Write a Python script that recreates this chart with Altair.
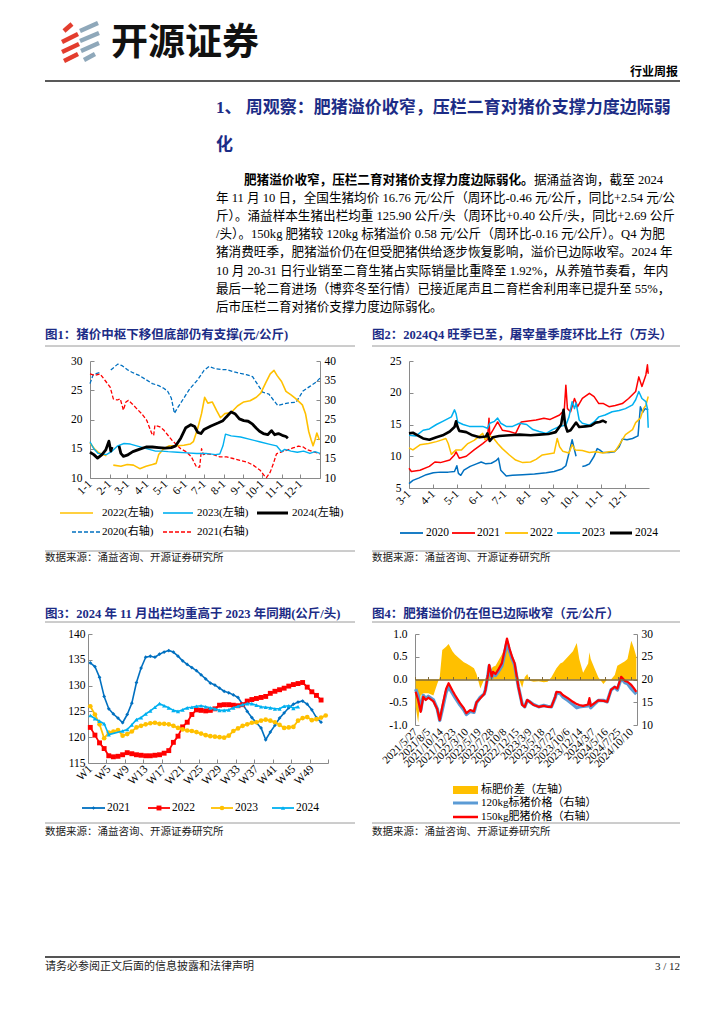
import json
import altair as alt
import pandas as pd

# ===================== DATA =====================
# Figure 1: hog price (yuan/kg); x = day of year
c1_ticks = [1, 32, 60, 91, 121, 152, 182, 213, 244, 274, 305, 335]
c1_tick_labels = ["1-1", "2-1", "3-1", "4-1", "5-1", "6-1", "7-1", "8-1", "9-1", "10-1", "11-1", "12-1"]
c1_d_2022 = [1, 8, 15, 22, 27, 33, 38, 50, 60, 70, 80, 90, 100, 106, 110, 118, 127, 140, 150, 160, 165, 172, 178, 183, 188, 195, 202, 208, 215, 225, 235, 245, 255, 265, 272, 280, 287, 293, 298, 305, 312, 320, 327, 333, 338, 343, 348, 352, 355, 358, 361, 365]
c1_v_2022 = [16.0, 15.0, 14.3, 14.0, 13.8, None, 12.2, 12.0, 12.3, 12.2, 11.6, 12.0, 12.3, 12.5, 14.0, 15.0, 15.5, 15.5, 15.6, 15.8, 16.2, 18.5, 21.0, 23.8, 22.8, 23.0, 21.5, 20.3, 21.0, 21.2, 22.3, 23.0, 23.2, 23.8, 24.5, 26.3, 27.8, 28.4, 27.5, 26.5, 24.8, 24.2, 23.6, 23.0, 22.5, 21.0, 18.0, 16.5, 15.5, 16.5, 17.7, 16.5]
c1_d_2023 = [1, 7, 14, 27, 35, 45, 55, 65, 75, 85, 95, 105, 115, 125, 140, 155, 170, 185, 200, 207, 212, 216, 225, 240, 255, 270, 285, 297, 305, 310, 320, 330, 340, 350, 358, 366]
c1_v_2023 = [16.2, 15.0, 14.2, 14.0, 14.5, 15.5, 15.9, 15.8, 15.5, 15.2, 14.9, 14.6, 14.6, 14.5, 14.4, 14.3, 14.2, 14.2, 14.0, 14.1, 15.5, 17.5, 17.2, 17.0, 16.6, 16.2, 15.8, 15.5, 14.5, 14.9, 14.6, 14.4, 14.6, 14.2, 14.5, 14.2]
c1_d_2024 = [1, 7, 13, 20, 26, 31, 34, 36, 40, 47, 50, 54, 60, 69, 79, 90, 100, 110, 120, 130, 137, 145, 153, 161, 167, 172, 177, 182, 193, 204, 212, 217, 225, 231, 238, 245, 252, 259, 265, 270, 276, 283, 289, 294, 300, 306, 312, 315]
c1_v_2024 = [14.4, 14.0, 13.4, 14.0, 14.8, 16.3, 14.6, 15.3, None, 15.5, 14.2, 13.7, 13.9, 14.5, 14.9, 15.3, 15.3, 15.2, 15.1, 15.2, 15.5, 16.8, 18.6, 19.1, 18.8, 17.8, 17.6, 18.3, 18.9, 19.4, 19.8, 20.4, 21.3, 21.0, 20.1, 19.8, 19.7, 19.2, 18.5, 18.0, 17.6, 17.4, 18.1, 17.4, 17.6, 17.3, 17.1, 16.8]
c1_d_2020 = [1, 6, 12, 16, 25, 34, 40, 45, 52, 60, 69, 79, 90, 100, 110, 118, 124, 130, 135, 140, 148, 159, 172, 182, 190, 200, 210, 217, 230, 240, 249, 259, 267, 275, 285, 292, 299, 308, 317, 328, 339, 350, 360, 366]
c1_v_2020 = [34.2, 36.5, 36.8, 37.0, None, 37.7, 38.5, 39.2, 38.8, 37.8, 37.0, 36.3, 35.2, 34.2, 33.7, 33.0, 32.3, 30.5, 26.6, 28.0, 30.0, 32.8, 35.2, 37.6, 38.6, 38.0, 37.8, 37.8, 37.2, 36.8, 36.5, 36.0, 34.0, 32.0, 31.5, 30.0, 28.6, 29.0, 29.3, 29.4, 32.3, 33.5, 34.6, 35.6]
c1_d_2021 = [1, 9, 17, 25, 33, 38, 44, 49, 54, 58, 62, 68, 75, 83, 91, 99, 102, 104, 112, 118, 125, 131, 139, 145, 154, 162, 170, 175, 178, 181, 186, 197, 207, 218, 228, 239, 250, 260, 271, 279, 281, 287, 292, 297, 303, 313, 323, 332, 340, 345, 356, 366]
c1_v_2021 = [36.7, 36.3, 36.7, 35.0, 33.3, 30.3, 30.0, 30.3, 27.4, 29.5, 29.9, 29.0, 27.8, 26.5, 24.8, 21.4, 20.9, 23.5, 23.1, 22.3, 20.9, 19.7, 18.4, 17.5, 16.7, 15.4, 12.8, 12.8, 17.5, 16.0, 16.2, 16.0, 15.4, 15.4, 15.0, 14.5, 14.1, 13.3, 12.0, 10.3, 10.1, 11.5, 13.7, 16.2, 16.6, 17.1, 17.7, 18.2, 17.9, 17.3, 16.7, 16.2]

# Figure 2: slaughter volume (10k head); x = days since Mar 1
c2_ticks = [0, 31, 61, 92, 122, 153, 184, 214, 245, 275]
c2_tick_labels = ["3-1", "4-1", "5-1", "6-1", "7-1", "8-1", "9-1", "10-1", "11-1", "12-1"]
c2_d_2020 = [0, 5, 13, 22, 31, 40, 50, 58, 61, 63, 66, 70, 78, 86, 92, 98, 105, 111, 114, 117, 124, 132, 145, 160, 175, 185, 195, 200, 205, 208, 211, 213, 217, 221, 225, 230, 236, 240, 243, 247, 255, 262, 268, 272, 278, 285, 292, 295, 298, 301, 305]
c2_v_2020 = [5.7, 6.2, 6.6, 7.1, 7.4, 7.5, 7.5, 7.6, 8.5, 7.3, 7.0, 7.8, 8.4, 8.8, 9.1, 8.8, 8.9, 9.3, 9.7, 7.8, 6.9, 7.0, 7.1, 7.2, 7.4, 7.6, 8.0, 8.5, 11.0, 12.6, 11.0, 10.0, None, 8.4, 8.5, 8.8, 10.0, 11.2, 11.0, 10.6, 10.6, 10.7, 11.5, 12.7, 12.6, 12.8, 13.2, 17.8, 16.9, 17.5, 17.3]
c2_d_2021 = [0, 3, 14, 26, 33, 40, 52, 58, 60, 64, 73, 83, 94, 100, 102, 103, 107, 113, 119, 128, 136, 143, 150, 162, 172, 180, 192, 198, 200, 202, 206, 211, 215, 221, 230, 236, 242, 248, 255, 263, 272, 280, 289, 293, 297, 302, 304, 305]
c2_v_2021 = [8.1, 7.6, 7.8, 8.4, 9.1, 9.0, 9.4, 10.2, 10.7, 9.7, 10.0, 11.0, 12.0, 12.6, 16.0, 13.3, 14.1, 15.4, 14.1, 13.9, 13.6, 15.4, 15.5, 15.7, 16.0, 15.8, 16.5, 17.3, 21.2, 17.5, 17.0, 19.1, 17.8, 19.1, 19.9, 19.4, 18.3, 18.3, 17.8, 18.0, 18.3, 19.1, 20.2, 22.5, 21.0, 22.8, 24.4, 23.0]
c2_d_2022 = [0, 5, 14, 25, 35, 40, 47, 50, 54, 60, 67, 75, 83, 91, 94, 97, 103, 108, 113, 119, 128, 136, 145, 155, 162, 170, 185, 189, 192, 196, 204, 208, 212, 221, 230, 238, 247, 255, 263, 270, 276, 285, 289, 295, 299, 302, 305]
c2_v_2022 = [11.3, 11.0, 11.8, 12.0, 12.3, 12.5, 12.8, 12.0, 10.3, 11.0, 11.0, 12.0, 12.5, 13.3, 13.6, 12.6, 13.2, 12.8, 12.0, 11.2, 10.2, 9.4, 9.0, 9.1, 9.5, 10.2, 10.5, 12.8, 11.5, 10.8, 10.5, 11.8, 11.0, 10.9, 10.6, 10.7, 10.5, 10.7, 10.8, 12.2, 13.4, 14.2, 15.3, 16.0, 17.5, 18.0, 19.4]
c2_d_2023 = [0, 9, 18, 26, 35, 43, 54, 58, 60, 62, 69, 77, 85, 94, 100, 103, 109, 113, 117, 124, 132, 141, 150, 158, 166, 175, 183, 192, 200, 204, 208, 211, 213, 217, 221, 230, 236, 242, 250, 259, 268, 276, 285, 289, 293, 297, 302, 304, 305]
c2_v_2023 = [13.3, 13.2, 14.1, 14.3, 15.0, 15.5, 16.2, 17.3, 16.7, 15.4, 15.0, 14.7, 14.7, 14.7, 14.4, 15.2, 15.5, 16.0, 15.2, 14.7, 14.7, 15.2, 15.0, 14.2, 13.9, 13.6, 14.2, 14.7, 14.9, 16.2, 18.6, 17.5, 18.4, 15.7, 15.2, 14.9, 15.4, 16.2, 16.5, 17.0, 17.2, 17.5, 18.1, 18.9, 20.2, 19.1, 18.6, 17.5, 14.5]
c2_d_2024 = [0, 5, 11, 18, 26, 35, 43, 52, 58, 60, 62, 64, 73, 81, 90, 98, 100, 103, 107, 115, 128, 141, 155, 166, 178, 187, 194, 197, 199, 202, 206, 213, 217, 225, 232, 238, 243, 247, 252]
c2_v_2024 = [13.6, 13.7, 13.3, 12.8, 12.6, 13.0, 13.3, 13.9, 14.6, 15.5, 14.6, 14.0, 13.8, 13.3, 13.0, 13.1, 13.6, 12.4, 13.0, 13.2, 13.3, 13.4, 13.3, 13.4, 13.5, 13.8, 15.0, 17.3, 15.0, 13.9, 14.1, 15.3, 14.6, 14.7, 14.8, 15.3, 15.4, 15.6, 15.3]

# Figure 3: average slaughter weight (kg/head), weeks W1..
c3_2021 = [134.4, 133.7, 131.6, 127.9, 125.5, 124.5, 123.7, 122.8, 124.4, 126.6, 130.6, 133.4, 135.5, 135.7, 135.5, 136.1, 136.5, 136.8, 136.5, 135.7, 134.8, 134.1, 133.5, 132.9, 132.1, 131.3, 130.5, 130.1, 129.5, 128.9, 128.6, 128.2, 127.7, 126.4, 125.0, 123.8, 122.8, 121.8, 119.5, 121.0, 122.3, 123.7, 124.7, 125.7, 126.4, 126.8, 127.0, 126.4, 125.3, 123.8, 122.9]
c3_2022 = [121.9, 120.4, 118.9, 117.8, 116.4, 116.2, 116.3, 116.6, 117.0, 116.8, 116.6, 116.5, 116.4, 116.4, 116.5, 116.6, 116.9, 117.4, 119.0, 120.2, 122.0, 122.9, 124.4, 125.3, 125.2, 125.1, 125.2, 125.5, 126.2, 126.3, 126.3, 126.2, 126.1, 126.3, 127.0, 127.3, 127.5, 127.7, 127.9, 128.5, 128.9, 129.2, 129.5, 129.9, 130.2, 130.4, 130.6, 129.7, 128.8, 128.1, 127.2]
c3_2023 = [126.0, 124.4, 122.5, 119.8, 120.9, 121.1, 121.4, 120.3, 120.6, 121.1, 121.9, 122.2, 122.5, 122.7, 122.8, 122.6, 122.6, 122.5, 122.2, 121.8, 121.5, 121.3, 121.2, 121.0, 120.7, 120.4, 120.2, 120.1, 120.0, 119.9, 120.3, 121.2, 121.7, 122.2, 122.5, 122.8, 122.9, 123.2, 123.4, 123.2, 122.9, 122.4, 121.8, 121.9, 122.0, 123.2, 123.7, 123.9, 123.3, 123.5, 123.8, 124.2]
c3_w_2024 = [1, 2, 3, 4, 5, 8, 9, 10, 11, 12, 13, 14, 15, 16, 17, 18, 19, 20, 21, 22, 23, 24, 25, 26, 27, 28, 29, 30, 31, 32, 33, 34, 35, 36, 37, 38, 39, 40, 41, 42, 43, 44, 45, 46]
c3_2024 = [124.2, 123.6, 123.1, 122.6, 120.5, 121.2, 121.5, 122.4, 123.4, 123.8, 124.5, 125.1, 125.8, 126.5, 126.1, 125.7, 125.2, 125.0, 125.3, 125.7, 125.8, 126.0, 126.1, 125.9, 125.7, 125.5, 125.2, 125.2, 125.3, 125.7, 126.0, 126.3, 126.5, 126.5, 126.2, 125.9, 125.8, 125.7, 125.5, 125.5, 126.0, 126.1, 125.6, 125.9]

# Figure 4: weekly fat-hog premium; x = weekly category index
c4_labels = ["2021/5/27", "2021/8/5", "2021/10/14", "2021/12/23", "2022/3/10", "2022/5/19", "2022/7/28", "2022/10/8", "2022/12/15", "2023/3/9", "2023/5/18", "2023/7/27", "2023/10/6", "2023/12/14", "2024/3/7", "2024/5/16", "2024/7/25", "2024/10/10"]
c4_idx = [0, 2, 4, 6, 8, 10, 14, 17, 19, 21, 24, 26, 29, 31, 35, 38, 40, 43, 46, 48, 51, 54, 55, 57, 58, 60, 61, 63, 65, 68, 70, 72, 74, 76, 78, 81, 84, 86, 88, 90, 93, 97, 101, 104, 107, 110, 111, 114, 116, 120, 124, 127, 129, 132, 136, 137, 138, 141, 144, 148, 151, 154, 157, 159, 162, 165, 167, 170, 172, 174]
c4_diff = [-0.6, -0.95, -0.35, -0.3, -0.3, -0.3, -0.35, -0.1, 0.05, 0.65, 0.72, 0.78, 0.62, 0.55, 0.45, 0.38, 0.35, 0.3, 0.25, 0.12, -0.2, 0.0, 0.02, 0.1, 0.15, 0.25, 0.28, 0.3, 0.4, 0.55, 0.68, 0.75, 0.55, 0.42, 0.3, 0.05, -0.18, 0.05, 0.12, -0.03, -0.05, -0.04, -0.06, -0.05, 0.05, 0.2, 0.25, 0.35, 0.38, 0.5, 0.62, 0.8, 0.45, 0.15, 0.35, 0.6, 0.45, 0.25, 0.05, -0.1, 0.0, 0.0, 0.1, 0.3, 0.35, 0.4, 0.45, 0.85, 0.7, 0.5]
c4_p150 = [17.3, 15.5, 12.9, 16.2, 15.5, 16.0, 15.2, 13.5, 11.1, 14.0, 17.9, 19.2, 17.6, 16.6, 14.8, 13.7, 12.6, 13.3, 13.0, 15.0, 15.9, 16.8, 17.7, 21.0, 23.2, 20.6, 21.7, 21.2, 22.1, 23.6, 26.2, 29.0, 26.8, 25.0, 23.6, 18.4, 14.4, 14.0, 15.5, 15.1, 14.4, 14.0, 14.2, 14.0, 14.0, 16.2, 17.3, 17.2, 16.6, 15.9, 15.1, 14.6, 14.4, 14.2, 14.5, 15.9, 14.2, 14.8, 15.4, 15.3, 15.1, 17.7, 18.4, 18.0, 20.6, 19.7, 19.5, 18.8, 18.1, 17.3]
c4_p120 = [17.9, 16.4, 13.2, 16.5, 15.8, 16.3, 15.5, 13.6, 11.0, 13.4, 17.2, 18.4, 17.0, 16.1, 14.4, 13.3, 12.3, 13.0, 12.8, 14.9, 16.1, 16.8, 17.7, 20.9, 23.0, 20.4, 21.4, 20.9, 21.7, 23.0, 25.5, 28.2, 26.2, 24.6, 23.3, 18.4, 14.6, 14.0, 15.4, 15.1, 14.5, 14.0, 14.3, 14.1, 14.0, 16.0, 17.0, 16.9, 16.2, 15.4, 14.5, 13.8, 14.0, 14.1, 14.2, 15.3, 13.8, 14.6, 15.4, 15.4, 15.1, 17.7, 18.3, 17.7, 20.3, 19.3, 19.1, 18.0, 17.4, 16.8]

# ===================== LAYOUT HELPERS =====================
W, H, M = 708, 1008, 8


def px(x):
    return x - M


def py(y):
    return y - M


ONE = alt.Data(values=[{}])
SERIF = "Liberation Serif, Noto Sans CJK SC"
CJK = "Noto Sans CJK SC"
NAVY = "#1c2c86"
AXC = "#8a8a8a"
layers = []


def T(s, x, y, size=12.6, weight="normal", color="#000", align="left", font=SERIF):
    layers.append(alt.Chart(ONE).mark_text(text=s, fontSize=size, fontWeight=weight, color=color,
                                           align=align, baseline="middle", font=font)
                  .encode(x=alt.value(px(x)), y=alt.value(py(y))))


def R(x0, y0, x1, y1, color="#000", width=1.0, dash=None, cap="butt"):
    kw = dict(color=color, strokeWidth=width, strokeCap=cap)
    if dash:
        kw["strokeDash"] = dash
    layers.append(alt.Chart(ONE).mark_rule(**kw)
                  .encode(x=alt.value(px(x0)), y=alt.value(py(y0)),
                          x2=alt.value(px(x1)), y2=alt.value(py(y1))))


def PT(x, y, shape, color, size):
    layers.append(alt.Chart(ONE).mark_point(shape=shape, filled=True, color=color, size=size, opacity=1)
                  .encode(x=alt.value(px(x)), y=alt.value(py(y))))


def xs(dom, a, b):
    return alt.Scale(domain=dom, range=[px(a), px(b)], nice=False, zero=False)


def ys(dom, bottom, top):
    return alt.Scale(domain=dom, range=[py(bottom), py(top)], nice=False, zero=False)


BASE = dict(domainColor=AXC, tickColor=AXC, labelColor="#000", labelFont="Liberation Serif",
            labelFontSize=11.5, grid=False, title=None, tickSize=4, labelOverlap=False, labelFlush=False)


def ax_left_in(xp, values, gap=9, expr=None):
    kw = dict(BASE, orient="right", offset=px(xp) - W, values=values, labelAlign="right",
              labelPadding=-(4 + gap))
    if expr:
        kw["labelExpr"] = expr
    return alt.Axis(**kw)


def ax_right_in(xp, values, gap=4):
    kw = dict(BASE, orient="left", offset=-px(xp), values=values, labelAlign="left",
              labelPadding=-(4 + gap))
    return alt.Axis(**kw)


def ax_bottom_in(yp, values, expr, gap=4, loff=0, size=11.5):
    kw = dict(BASE, orient="top", offset=-py(yp), values=values, labelExpr=expr, labelAngle=-45,
              labelAlign="right", labelBaseline="middle", labelPadding=-(4 + gap), labelOffset=loff,
              labelFontSize=size)
    return alt.Axis(**kw)


def mk(xv, vv):
    rows, g = [], 0
    for x, v in zip(xv, vv):
        if v is None:
            g += 1
            continue
        rows.append({"x": x, "v": v, "g": g})
    return pd.DataFrame(rows)


def LINE(df, X, Y, color, width, dash=None, xaxis=None, yaxis=None):
    kw = dict(color=color, strokeWidth=width, strokeJoin="round")
    if dash:
        kw["strokeDash"] = dash
    layers.append(alt.Chart(df).mark_line(**kw).encode(
        x=alt.X("x:Q", scale=X, axis=xaxis), y=alt.Y("v:Q", scale=Y, axis=yaxis), detail="g:N"))


def POINTS(df, X, Y, color, shape, size):
    layers.append(alt.Chart(df).mark_point(shape=shape, filled=True, color=color, size=size, opacity=1)
                  .encode(x=alt.X("x:Q", scale=X, axis=None), y=alt.Y("v:Q", scale=Y, axis=None)))


def arr(lst):
    return json.dumps(lst, ensure_ascii=False)


# ===================== HEADER / TEXT =====================
RED, BLUEGREY = "#e33d2e", "#8fa8ba"
R(64, 31, 72, 24, RED, 4.5)
R(62, 42, 78, 34, RED, 4.5)
R(62, 52, 79, 44, RED, 4.5)
R(64, 61, 78, 54, RED, 4.5)
R(80, 31, 98, 23, BLUEGREY, 4.5)
R(80, 41, 99, 33, BLUEGREY, 4.5)
R(81, 51, 99, 43, BLUEGREY, 4.5)
R(84, 60, 95, 54, BLUEGREY, 4.5)
T("开源证券", 111, 44, size=37, weight="bold", font=CJK, color="#111")
T("行业周报", 678, 72, size=12, weight="bold", align="right", font=CJK)
R(45, 81, 680, 81, "#222", 1.6)

T("1、 周观察：肥猪溢价收窄，压栏二育对猪价支撑力度边际弱", 216, 108, size=17, weight="bold", color=NAVY)
T("化", 216, 145, size=17, weight="bold", color=NAVY)

para = [
    "年 11 月 10 日，全国生猪均价 16.76 元/公斤（周环比-0.46 元/公斤，同比+2.54 元/公",
    "斤）。涌益样本生猪出栏均重 125.90 公斤/头（周环比+0.40 公斤/头，同比+2.69 公斤",
    "/头）。150kg 肥猪较 120kg 标猪溢价 0.58 元/公斤（周环比-0.16 元/公斤）。Q4 为肥",
    "猪消费旺季，肥猪溢价仍在但受肥猪供给逐步恢复影响，溢价已边际收窄。2024 年",
    "10 月 20-31 日行业销至二育生猪占实际销量比重降至 1.92%，从养殖节奏看，年内",
    "最后一轮二育进场（博弈冬至行情）已接近尾声且二育栏舍利用率已提升至 55%，",
    "后市压栏二育对猪价支撑力度边际弱化。",
]
T("肥猪溢价收窄，压栏二育对猪价支撑力度边际弱化。", 244, 180, weight="bold")
T("据涌益咨询，截至 2024", 534, 180)
for i, s in enumerate(para):
    T(s, 216, 180 + 18.1 * (i + 1))

# chart titles, rules, sources
T("图1：猪价中枢下移但底部仍有支撑(元/公斤)", 45, 335, size=12.5, weight="bold", color=NAVY)
T("图2：2024Q4 旺季已至，屠宰量季度环比上行（万头）", 372, 335, size=12.5, weight="bold", color=NAVY)
T("图3：2024 年 11 月出栏均重高于 2023 年同期(公斤/头)", 45, 614, size=12.5, weight="bold", color=NAVY)
T("图4：肥猪溢价仍在但已边际收窄（元/公斤）", 372, 614, size=12.5, weight="bold", color=NAVY)
for (a, b) in [(45, 355), (372, 680)]:
    R(a, 346, b, 346, "#9a9a9a", 1)
    R(a, 551, b, 551, "#9a9a9a", 1)
    R(a, 622, b, 622, "#9a9a9a", 1)
    R(a, 823, b, 823, "#9a9a9a", 1)
for (a, yy) in [(45, 558), (372, 558), (45, 832), (372, 832)]:
    T("数据来源：涌益咨询、开源证券研究所", a, yy, size=10.5, color="#222")

# footer
R(45, 957, 680, 957, "#555", 2)
T("请务必参阅正文后面的信息披露和法律声明", 45, 967, size=11, color="#222")
T("3 / 12", 680, 967, size=11, align="right", color="#222")

# ===================== FIGURE 1 =====================
X1 = xs([1, 366], 90, 320)
YL1 = ys([10, 30], 478, 361)
YR1 = ys([10, 40], 478, 361)
c1_expr = f"{arr(c1_tick_labels)}[indexof({arr(c1_ticks)}, datum.value)]"
LINE(mk(c1_d_2020, c1_v_2020), X1, YR1, "#0070C0", 1.3, dash=[4, 2],
     xaxis=ax_bottom_in(478, c1_ticks, c1_expr), yaxis=ax_right_in(320, [10, 15, 20, 25, 30, 35, 40]))
LINE(mk(c1_d_2021, c1_v_2021), X1, YR1, "#FF0000", 1.3, dash=[4, 2])
LINE(mk(c1_d_2022, c1_v_2022), X1, YL1, "#FFC000", 1.6,
     yaxis=ax_left_in(90, [10, 15, 20, 25, 30], gap=8))
LINE(mk(c1_d_2023, c1_v_2023), X1, YL1, "#00B0F0", 1.4)
LINE(mk(c1_d_2024, c1_v_2024), X1, YL1, "#000000", 2.8)
# legend
R(60, 513, 93, 513, "#FFC000", 1.6); T("2022(左轴)", 102, 513, size=11)
R(163, 513, 193, 513, "#00B0F0", 1.6); T("2023(左轴)", 197, 513, size=11)
R(257, 513, 288, 513, "#000000", 3); T("2024(左轴)", 292, 513, size=11)
R(72, 532, 100, 532, "#0070C0", 1.3, dash=[4, 2]); T("2020(右轴)", 102, 532, size=11)
R(163, 532, 193, 532, "#FF0000", 1.3, dash=[4, 2]); T("2021(右轴)", 197, 532, size=11)

# ===================== FIGURE 2 =====================
X2 = xs([0, 306], 409, 649)
Y2 = ys([5, 25], 488, 361)
c2_expr = f"{arr(c2_tick_labels)}[indexof({arr(c2_ticks)}, datum.value)]"
LINE(mk(c2_d_2020, c2_v_2020), X2, Y2, "#0070C0", 1.5,
     xaxis=ax_bottom_in(488, c2_ticks, c2_expr), yaxis=ax_left_in(409, [5, 10, 15, 20, 25], gap=8))
LINE(mk(c2_d_2021, c2_v_2021), X2, Y2, "#FF0000", 1.5)
LINE(mk(c2_d_2022, c2_v_2022), X2, Y2, "#FFC000", 1.5)
LINE(mk(c2_d_2023, c2_v_2023), X2, Y2, "#00B0F0", 1.5)
LINE(mk(c2_d_2024, c2_v_2024), X2, Y2, "#000000", 2.6)
for (a, b, tx, col, lab) in [(400, 423, 426, "#0070C0", "2020"), (452, 475, 477, "#FF0000", "2021"),
                             (505, 528, 530, "#FFC000", "2022"), (557, 580, 582, "#00B0F0", "2023")]:
    R(a, 533, b, 533, col, 1.8); T(lab, tx, 533, size=11.5)
R(610, 533, 632, 533, "#000000", 3); T("2024", 635, 533, size=11.5)

# ===================== FIGURE 3 =====================
X3 = xs([0.5, 52.5], 88, 328)
Y3 = ys([115, 140], 763, 634)
c3_vals = [0.5 + 4 * k for k in range(14)]
c3_expr = "datum.value > 50 ? '' : 'W' + (datum.value + 0.5)"
wk = lambda lst: list(range(1, len(lst) + 1))
d21, d22, d23, d24 = mk(wk(c3_2021), c3_2021), mk(wk(c3_2022), c3_2022), mk(wk(c3_2023), c3_2023), mk(c3_w_2024, c3_2024)
LINE(d21, X3, Y3, "#0070C0", 1.6, xaxis=ax_bottom_in(763, c3_vals, c3_expr, loff=2.3),
     yaxis=ax_left_in(88, [115, 120, 125, 130, 135, 140], gap=3))
POINTS(d21, X3, Y3, "#0070C0", "diamond", 14)
LINE(d22, X3, Y3, "#FF0000", 1.8)
POINTS(d22, X3, Y3, "#FF0000", "square", 24)
LINE(d23, X3, Y3, "#FFC000", 1.8)
POINTS(d23, X3, Y3, "#FFC000", "circle", 22)
LINE(d24, X3, Y3, "#00B0F0", 1.6)
POINTS(d24, X3, Y3, "#00B0F0", "triangle-up", 18)
for (a, b, tx, col, shp, sz, lab) in [(82, 105, 107, "#0070C0", "diamond", 14, "2021"),
                                      (148, 170, 172, "#FF0000", "square", 24, "2022"),
                                      (211, 233, 235, "#FFC000", "circle", 22, "2023"),
                                      (272, 294, 296, "#00B0F0", "triangle-up", 18, "2024")]:
    R(a, 808, b, 808, col, 1.8)
    PT((a + b) / 2, 808, shp, col, sz)
    T(lab, tx, 808, size=11.5)

# ===================== FIGURE 4 =====================
X4 = xs([-0.5, 174.5], 415, 637)
YL4 = ys([-1, 1], 725, 634)
YR4 = ys([10, 30], 725, 634)
c4_expr = f"{arr(c4_labels)}[round(datum.value / 10)]"
df4 = pd.DataFrame({"x": c4_idx, "d": c4_diff})
bottom_labels = alt.Axis(**dict(BASE, orient="bottom", offset=py(725) - H, values=[10 * k for k in range(18)],
                                labelExpr=c4_expr, labelAngle=-45, labelAlign="right", labelBaseline="middle",
                                ticks=False, tickSize=0, domain=False, labelPadding=5, labelFontSize=11))
left4 = ax_left_in(415, [-1, -0.5, 0, 0.5, 1], gap=8,
                   expr="replace(format(datum.value, '.1f'), '\u2212', '-')")
layers.append(alt.Chart(df4).mark_area(color="#FFC000", opacity=1).encode(
    x=alt.X("x:Q", scale=X4, axis=bottom_labels),
    y=alt.Y("d:Q", scale=YL4, axis=left4, stack=None),
    y2=alt.datum(0)))
zero_axis = alt.Axis(orient="top", offset=-py(679.5), values=[10 * k - 0.5 for k in range(18)], labels=False,
                     domainColor="#7f6a3a", tickColor="#7f6a3a", tickSize=3, grid=False, title=None,
                     domainWidth=1.3, zindex=1)
LINE(mk(c4_idx, c4_p120), X4, YR4, "#5B9BD5", 3.4)
LINE(mk(c4_idx, c4_p150), X4, YR4, "#FF0000", 2.2, xaxis=zero_axis,
     yaxis=ax_right_in(637, [10, 15, 20, 25, 30], gap=4))
R(453, 790, 478, 790, "#FFC000", 8); T("标肥价差（左轴）", 481, 790, size=11)
R(453, 803, 478, 803, "#5B9BD5", 3); T("120kg标猪价格（右轴）", 481, 803, size=11)
R(453, 817, 478, 817, "#FF0000", 2.5); T("150kg肥猪价格（右轴）", 481, 817, size=11)

# ===================== ASSEMBLE =====================
chart = alt.layer(*layers).resolve_scale(x="independent", y="independent").properties(
    width=W, height=H, autosize=alt.AutoSizeParams(type="none"), padding=0,
    background="white").configure_view(stroke=None)

chart.save("out.html", embed_options={"renderer": "svg", "actions": False})
